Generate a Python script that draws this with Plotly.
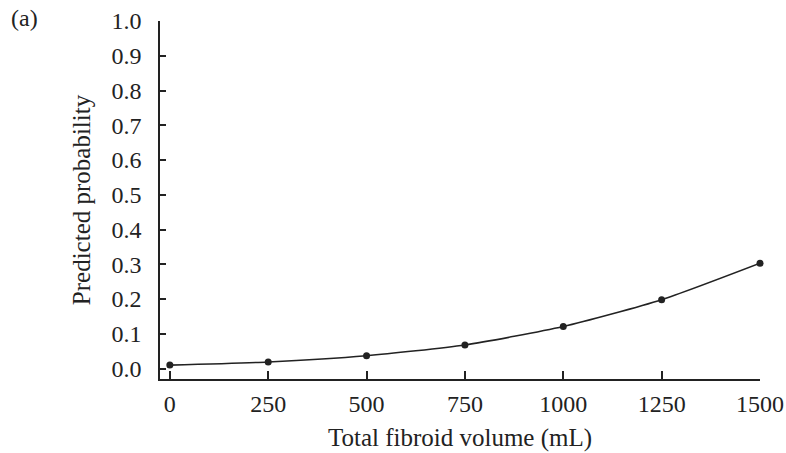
import plotly.graph_objects as go

volume = [0, 250, 500, 750, 1000, 1250, 1500]
probability = [0.010, 0.019, 0.037, 0.068, 0.121, 0.198, 0.303]
x_ticks = [0, 250, 500, 750, 1000, 1250, 1500]
y_ticks = [0.0, 0.1, 0.2, 0.3, 0.4, 0.5, 0.6, 0.7, 0.8, 0.9, 1.0]

FONT = "Liberation Serif"
INK = "#222222"

fig = go.Figure()
fig.add_trace(go.Scatter(
    x=volume, y=probability, mode="lines+markers",
    line=dict(color=INK, width=1.6, shape="spline", smoothing=0.6),
    marker=dict(color=INK, size=7),
    cliponaxis=False, showlegend=False,
))

axis_common = dict(
    showgrid=False, zeroline=False, showline=True, linecolor=INK, linewidth=1.5,
    ticks="inside", tickcolor=INK, tickwidth=1.5, automargin=False,
    tickfont=dict(family=FONT, size=24, color=INK),
)

fig.update_layout(
    width=786, height=453,
    margin=dict(l=160, r=26, t=21, b=74),
    paper_bgcolor="white", plot_bgcolor="white",
    font=dict(family=FONT, color=INK),
    xaxis=dict(
        **axis_common, range=[-25, 1500], tickvals=x_ticks,
        ticktext=[str(v) for v in x_ticks], ticklen=8, ticklabelstandoff=2,
        title=dict(text="Total fibroid volume (mL)", font=dict(family=FONT, size=25, color=INK), standoff=13),
    ),
    yaxis=dict(
        **axis_common, range=[-0.03, 1.0], tickvals=y_ticks,
        ticktext=[f"{v:.1f}" for v in y_ticks], ticklen=6, ticklabelstandoff=12,
        title=dict(text="Predicted probability", font=dict(family=FONT, size=25, color=INK), standoff=14),
    ),
)
fig.layout.annotations = [dict(text="(a)", x=-0.252, y=1.0, xref="paper", yref="paper",
                               xanchor="left", yanchor="middle", yshift=3, showarrow=False,
                               font=dict(family=FONT, size=24, color=INK))]

fig.write_html(
    "out.html",
    config={"displayModeBar": False},
    post_script="document.body.style.margin='0';document.body.style.overflow='hidden';",
)
